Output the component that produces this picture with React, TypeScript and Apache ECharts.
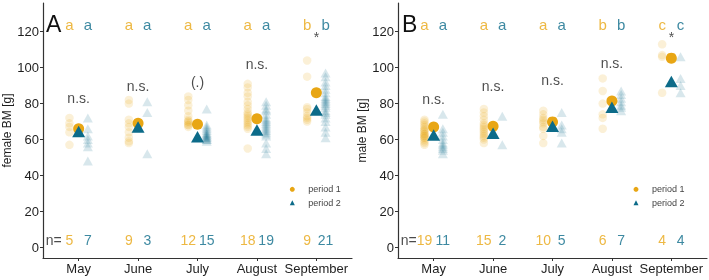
import React, { useEffect, useRef } from 'react';
import * as echarts from 'echarts';

const months = ['May', 'June', 'July', 'August', 'September'];
const yTicks = [0, 20, 40, 60, 80, 100, 120];

// Female body mass, raw values per month
const femaleP1: number[][] = [
  [72, 69, 67, 64, 57],
  [82, 80, 71, 69, 67, 64, 61, 59, 58],
  [84, 82, 79, 76, 73, 71, 70, 70, 69, 68, 68, 67],
  [91, 89, 86, 84, 81, 79, 77, 75, 74, 73, 72, 71, 70, 69, 68, 67, 66, 55],
  [104, 95, 78, 77, 75, 73, 72, 71, 70],
];
const femaleP2: number[][] = [
  [72, 66, 62, 60, 58, 56, 48],
  [81, 75, 52],
  [77, 68, 67, 66, 65, 64, 63, 63, 62, 62, 61, 61, 60, 60, 59],
  [81, 79, 77, 76, 74, 72, 71, 70, 69, 68, 67, 66, 65, 64, 63, 62, 58, 55, 52],
  [97, 95, 92, 90, 88, 86, 84, 83, 82, 81, 80, 79, 78, 76, 75, 74, 72, 70, 67, 64, 61],
];
const femaleMeanP1 = [66, 69, 68.5, 71.5, 86];
const femaleMeanP2 = [64.5, 67, 61.5, 65.3, 76.4];
const femaleLettersP1 = ['a', 'a', 'a', 'a', 'b'];
const femaleLettersP2 = ['a', 'a', 'a', 'a', 'b'];
const femaleSig = ['n.s.', 'n.s.', '(.)', 'n.s.', '*'];
const femaleSigY = [83, 90, 92, 102, 117];

// Male body mass, raw values per month
const maleP1: number[][] = [
  [71, 70, 69, 68, 67, 66, 65, 65, 64, 63, 63, 62, 62, 61, 61, 60, 59, 58, 57],
  [77, 75, 73, 71, 69, 68, 67, 66, 65, 64, 63, 62, 61, 60, 58],
  [76, 74, 72, 71, 70, 69, 67, 66, 62, 58],
  [94, 87, 80, 74, 72, 66],
  [113, 107, 106, 86],
];
const maleP2: number[][] = [
  [74, 66, 64, 62, 60, 58, 57, 56, 55, 54, 52],
  [73, 57],
  [75, 68, 66, 64, 58],
  [87, 85, 83, 81, 79, 78, 76],
  [106, 94, 90, 86],
];
const maleMeanP1 = [67, 67.3, 69.8, 81.4, 105.3];
const maleMeanP2 = [62.5, 63.4, 67.3, 77.9, 92.3];
const maleLettersP1 = ['a', 'a', 'a', 'b', 'c'];
const maleLettersP2 = ['a', 'a', 'a', 'b', 'c'];
const maleSig = ['n.s.', 'n.s.', 'n.s.', 'n.s.', '*'];
const maleSigY = [82.5, 90, 93, 102.5, 117];

const ORANGE = '#E8A614';
const TEAL = '#0C6B89';
const TEXT = '#1e1e1e';
const FONT = '"Liberation Sans", Arial, sans-serif';
const OFF = 0.155;
const LETTER_Y = 124;
const N_Y = 4;

function textSeries(idx: number, data: any[], color: string, fontSize: number, extra: any = {}) {
  return {
    type: 'scatter',
    xAxisIndex: idx,
    yAxisIndex: idx,
    symbolSize: 0,
    silent: true,
    z: 5,
    data,
    label: {
      show: true,
      position: 'inside',
      formatter: (p: any) => p.value[2],
      color,
      fontSize,
      fontFamily: FONT,
      ...extra,
    },
  };
}

function panelSeries(
  idx: number,
  p1: number[][],
  p2: number[][],
  m1: number[],
  m2: number[],
  l1: string[],
  l2: string[],
  sig: string[],
  sigY: number[]
) {
  const raw1: number[][] = [];
  const raw2: number[][] = [];
  p1.forEach((arr, i) => arr.forEach((v) => raw1.push([i + 1 - OFF, v])));
  p2.forEach((arr, i) => arr.forEach((v) => raw2.push([i + 1 + OFF, v])));
  return [
    {
      name: 'period 1 raw',
      type: 'scatter',
      xAxisIndex: idx,
      yAxisIndex: idx,
      symbol: 'circle',
      symbolSize: 8.5,
      silent: true,
      itemStyle: { color: ORANGE, opacity: 0.17 },
      data: raw1,
    },
    {
      name: 'period 2 raw',
      type: 'scatter',
      xAxisIndex: idx,
      yAxisIndex: idx,
      symbol: 'triangle',
      symbolSize: [10, 9],
      silent: true,
      itemStyle: { color: TEAL, opacity: 0.16 },
      data: raw2,
    },
    {
      name: 'period 1',
      type: 'scatter',
      xAxisIndex: idx,
      yAxisIndex: idx,
      symbol: 'circle',
      symbolSize: 11,
      silent: true,
      itemStyle: { color: ORANGE, opacity: 1 },
      data: m1.map((v, i) => [i + 1, v]),
    },
    {
      name: 'period 2',
      type: 'scatter',
      xAxisIndex: idx,
      yAxisIndex: idx,
      symbol: 'triangle',
      symbolSize: [13, 11.5],
      silent: true,
      itemStyle: { color: TEAL, opacity: 1 },
      data: m2.map((v, i) => [i + 1, v]),
    },
    textSeries(idx, l1.map((t, i) => [i + 1 - OFF, LETTER_Y, t]), ORANGE, 15),
    textSeries(idx, l2.map((t, i) => [i + 1 + OFF, LETTER_Y, t]), TEAL, 15),
    textSeries(idx, p1.map((a, i) => [i + 1 - OFF, N_Y, String(a.length)]), ORANGE, 14),
    textSeries(idx, p2.map((a, i) => [i + 1 + OFF, N_Y, String(a.length)]), TEAL, 14),
    textSeries(idx, sig.map((t, i) => [i + 1, sigY[i], t]), TEXT, 14),
    textSeries(idx, [[0.715, N_Y, 'n=']], TEXT, 14, { position: 'left', distance: 0 }),
  ];
}

export default function App() {
  const ref = useRef<HTMLDivElement>(null);
  useEffect(() => {
    if (!ref.current) return;
    const chart = echarts.init(ref.current, undefined, { renderer: 'svg' });
    const grids = [
      { left: 43, top: 3, width: 309, height: 255 },
      { left: 398, top: 3, width: 309, height: 255 },
    ];
    const xAxes = grids.map((_, i) => ({
      type: 'value',
      gridIndex: i,
      min: 0.4,
      max: 5.6,
      splitLine: { show: false },
      axisLine: { show: true, onZero: false, lineStyle: { color: '#333', width: 1.2 } },
      axisTick: { show: true, customValues: [1, 2, 3, 4, 5], length: 3, lineStyle: { color: '#333' } },
      axisLabel: {
        customValues: [1, 2, 3, 4, 5],
        formatter: (v: number) => months[Math.round(v) - 1] || '',
        color: TEXT,
        fontSize: 13,
        fontFamily: FONT,
        margin: 4,
      },
    }));
    const yNames = ['female BM [g]', 'male BM [g]'];
    const yAxes = grids.map((_, i) => ({
      type: 'value',
      gridIndex: i,
      min: -6,
      max: 136,
      name: yNames[i],
      nameLocation: 'middle',
      nameGap: 28,
      nameTextStyle: { color: TEXT, fontSize: 12, fontFamily: FONT },
      splitLine: { show: false },
      axisLine: { show: true, onZero: false, lineStyle: { color: '#333', width: 1.2 } },
      axisTick: { show: true, customValues: yTicks, length: 3, lineStyle: { color: '#333' } },
      axisLabel: {
        customValues: yTicks,
        color: TEXT,
        fontSize: 13,
        fontFamily: FONT,
        margin: 4,
      },
    }));
    const legendBase = {
      orient: 'vertical',
      padding: 0,
      itemWidth: 5,
      itemHeight: 5,
      itemGap: 4.4,
      selectedMode: false,
      textStyle: { fontSize: 9, color: '#444', fontFamily: FONT, lineHeight: 9, padding: [0, 0, 0, 8.5] },
      data: [
        { name: 'period 1', icon: 'circle' },
        { name: 'period 2', icon: 'triangle' },
      ],
    };
    chart.setOption({
      animation: false,
      grid: grids,
      xAxis: xAxes,
      yAxis: yAxes,
      legend: [
        { ...legendBase, left: 289.8, top: 184.8 },
        { ...legendBase, left: 633.5, top: 184.8 },
      ],
      graphic: [
        { type: 'text', left: 46, top: 12, style: { text: 'A', fontSize: 23, fill: '#111', fontFamily: FONT } },
        { type: 'text', left: 402, top: 12, style: { text: 'B', fontSize: 23, fill: '#111', fontFamily: FONT } },
      ],
      series: [
        ...panelSeries(0, femaleP1, femaleP2, femaleMeanP1, femaleMeanP2, femaleLettersP1, femaleLettersP2, femaleSig, femaleSigY),
        ...panelSeries(1, maleP1, maleP2, maleMeanP1, maleMeanP2, maleLettersP1, maleLettersP2, maleSig, maleSigY),
      ],
    });
    return () => chart.dispose();
  }, []);
  return <div ref={ref} style={{ position: 'fixed', left: 0, top: 0, width: 709, height: 280 }} />;
}
